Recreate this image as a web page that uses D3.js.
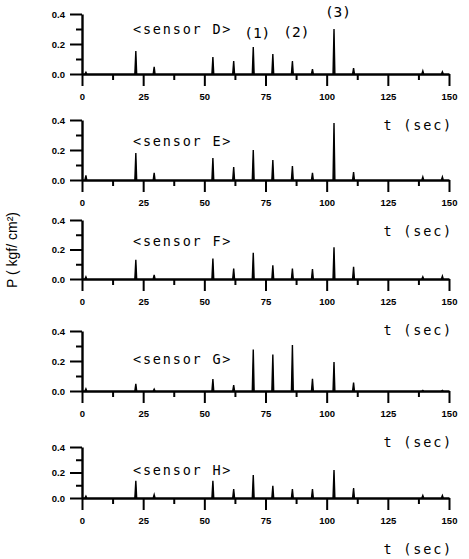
<!DOCTYPE html>
<html>
<head>
<meta charset="utf-8">
<script src="https://cdn.jsdelivr.net/npm/d3@7"></script>
<style>
  body { margin: 0; background: #fff; }
  svg { display: block; }
  .tick text { font-family: "Liberation Sans", Arial, sans-serif; font-weight: bold; font-size: 9.5px; fill: #000; }
  .plotfont { font-family: "DejaVu Sans Mono", monospace; font-size: 13.5px; letter-spacing: 1.8px; fill: #000; }
</style>
</head>
<body>
<div id="chart"></div>
<script>
// sensor names and peak times (sec)
var sensors = ["D", "E", "F", "G", "H"];
var peakTimes = [1.6, 22, 29.5, 53.5, 62, 70, 78, 86, 94.2, 103, 111, 139.3, 147.3];

// peak pressures (kgf/cm2) for each sensor
var valuesD = [0.012, 0.153, 0.047, 0.113, 0.087, 0.18, 0.133, 0.087, 0.033, 0.30, 0.04, 0.02, 0.015];
var valuesE = [0.03, 0.18, 0.047, 0.147, 0.087, 0.20, 0.133, 0.093, 0.047, 0.38, 0.053, 0.02, 0.02];
var valuesF = [0.015, 0.13, 0.027, 0.138, 0.071, 0.178, 0.093, 0.071, 0.067, 0.215, 0.082, 0.015, 0.02];
var valuesG = [0.015, 0.047, 0.013, 0.079, 0.04, 0.277, 0.243, 0.306, 0.081, 0.194, 0.056, 0.004, 0.004];
var valuesH = [0.015, 0.135, 0.026, 0.135, 0.07, 0.18, 0.096, 0.07, 0.07, 0.219, 0.078, 0.02, 0.02];
var allValues = [valuesD, valuesE, valuesF, valuesG, valuesH];

// axis ticks
var xMajor = [0, 25, 50, 75, 100, 125, 150];
var xMinor = [12.5, 37.5, 62.5, 87.5, 112.5, 137.5];
var yMajor = [0, 0.2, 0.4];
var yMinor = [0.1, 0.3];

// labels on the first panel: peak numbers and the times they mark
var markLabels = ["(1)", "(2)", "(3)"];
var markTimes = [70, 86, 103];

var width = 469, height = 559;
var left = 82, right = 449;
// pixel layout of each panel: baseline, top (0.4) and sensor label line
var panels = [
	{ y0: 74, yTop: 14, labelY: 30 },
	{ y0: 180, yTop: 120, labelY: 142 },
	{ y0: 279, yTop: 220, labelY: 242 },
	{ y0: 391, yTop: 331, labelY: 360 },
	{ y0: 498, yTop: 447, labelY: 471 }
];

var svg = d3.select("#chart").append("svg")
	.attr("width", width)
	.attr("height", height);

var x = d3.scaleLinear().domain([0, 150]).range([left, right]);

panels.forEach(function(p, i) {
	var y = d3.scaleLinear().domain([0, 0.4]).range([p.y0, p.yTop]);
	var g = svg.append("g");

	// minor ticks
	g.append("g")
		.attr("transform", "translate(0," + p.y0 + ")")
		.call(d3.axisBottom(x).tickValues(xMinor).tickSize(6).tickFormat(""))
		.call(function(a) { a.select(".domain").remove(); });
	g.append("g")
		.attr("transform", "translate(" + left + ",0)")
		.call(d3.axisLeft(y).tickValues(yMinor).tickSize(6).tickFormat(""))
		.call(function(a) { a.select(".domain").remove(); });

	// major axes
	g.append("g")
		.attr("transform", "translate(0," + p.y0 + ")")
		.call(d3.axisBottom(x).tickValues(xMajor).tickSize(12).tickSizeOuter(0).tickPadding(7));
	g.append("g")
		.attr("transform", "translate(" + left + ",0)")
		.call(d3.axisLeft(y).tickValues(yMajor).tickSize(12).tickSizeOuter(0).tickPadding(5)
			.tickFormat(d3.format(".1f")));

	g.selectAll(".domain").attr("stroke", "#000").attr("stroke-width", 2.4);
	g.selectAll(".tick line").attr("stroke", "#000").attr("stroke-width", 2);

	// spikes
	var spikes = peakTimes.map(function(t, k) { return { t: t, v: allValues[i][k] }; });
	var spikeLine = d3.line()
		.x(function(d) { return x(d[0]); })
		.y(function(d) { return y(d[1]); });
	g.selectAll("path.spike")
		.data(spikes)
		.enter()
		.append("path")
		.attr("class", "spike")
		.attr("d", function(d) {
			return spikeLine([[d.t - 0.4, 0], [d.t, d.v], [d.t + 0.35, 0]]);
		})
		.attr("fill", "#000")
		.attr("stroke", "#000")
		.attr("stroke-width", 1.4)
		.attr("stroke-linejoin", "miter");

	// sensor name
	g.append("text")
		.attr("class", "plotfont")
		.attr("x", 133)
		.attr("y", p.labelY)
		.attr("dominant-baseline", "middle")
		.text("<sensor " + sensors[i] + ">");

	// time axis label
	g.append("text")
		.attr("class", "plotfont")
		.attr("x", 453)
		.attr("y", p.y0 + 52)
		.attr("text-anchor", "end")
		.attr("dominant-baseline", "middle")
		.text("t (sec)");

	if (i === 0) {
		var yOff = [-40, -41, -61];
		g.selectAll("text.mark")
			.data(markLabels)
			.enter()
			.append("text")
			.attr("class", "plotfont mark")
			.attr("x", function(d, k) { return x(markTimes[k]) + 4; })
			.attr("y", function(d, k) { return p.y0 + yOff[k]; })
			.attr("text-anchor", "middle")
			.attr("dominant-baseline", "middle")
			.style("letter-spacing", "0px")
			.style("font-size", "14.5px")
			.text(function(d) { return d; });
	}
});

// y axis title
svg.append("text")
	.attr("transform", "translate(17,250) rotate(-90)")
	.attr("text-anchor", "middle")
	.style("font-family", "'Liberation Sans', Arial, sans-serif")
	.style("font-size", "14px")
	.text("P ( kgf/ cm\u00b2)");
</script>
</body>
</html>
